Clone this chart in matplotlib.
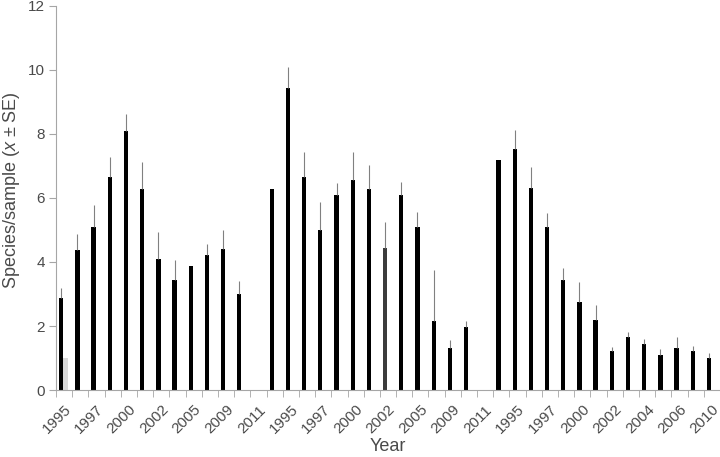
import numpy as np
import matplotlib
matplotlib.use("Agg")
import matplotlib.pyplot as plt

plt.rcParams['font.family'] = ['Liberation Sans', 'DejaVu Sans']
plt.rcParams['mathtext.fontset'] = 'custom'
plt.rcParams['mathtext.rm'] = 'Liberation Sans'
plt.rcParams['mathtext.it'] = 'Liberation Sans:italic'

nan = np.nan
# three sites, one empty slot between them
means = [2.87, 4.38, 5.08, 6.66, 8.08, 6.28, 4.08, 3.43, 3.88, 4.21, 4.42, 2.99, nan,
         6.28, 9.43, 6.66, 5.00, 6.09, 6.55, 6.29, 4.43, 6.08, 5.08, 2.16, 1.32, 1.98, nan,
         7.20, 7.54, 6.31, 5.08, 3.43, 2.76, 2.19, 1.21, 1.65, 1.43, 1.10, 1.32, 1.21, 0.99]
se = [0.33, 0.50, 0.69, 0.62, 0.53, 0.83, 0.86, 0.62, 0.0, 0.35, 0.59, 0.41, nan,
      0.0, 0.65, 0.77, 0.88, 0.38, 0.90, 0.74, 0.81, 0.42, 0.48, 1.60, 0.24, 0.17, nan,
      0.0, 0.59, 0.67, 0.44, 0.39, 0.60, 0.47, 0.14, 0.16, 0.17, 0.18, 0.34, 0.17, 0.16]
grey_vals = [1.0] + [nan] * 40
tick_labels = ['1995', '1997', '2000', '2002', '2005', '2009', '2011',
               '1995', '1997', '2000', '2002', '2005', '2009', '2011',
               '1995', '1997', '2000', '2002', '2004', '2006', '2010']

n = len(means)
x = np.arange(n)
colors = ['black'] * n
colors[20] = '#3c3c3c'

text_col = '#4a4a4a'
axis_col = '#a6a6a6'

fig = plt.figure(figsize=(7.2, 4.57), dpi=100)
ax = fig.add_axes([0.0778, 0.1466, 0.9222, 0.8403])

ax.bar(x - 0.18, means, width=0.265, color=colors,
       yerr=[np.zeros(n), se],
       error_kw=dict(ecolor='#808080', elinewidth=0.8, capsize=0))
ax.bar(x + 0.09, grey_vals, width=0.265, color='#d9d9d9')

ax.set_xlim(-0.5, n - 0.5)
ax.set_ylim(0, 12)
ax.set_yticks(range(0, 13, 2))

ax.set_xticks(x[::2])
ax.set_xticklabels(tick_labels, rotation=45, ha='right', rotation_mode='anchor')
ax.set_xticks(np.arange(n + 1) - 0.5, minor=True)
ax.tick_params(axis='x', which='major', length=0, pad=9, labelsize=11, labelcolor=text_col)
ax.tick_params(axis='x', which='minor', length=5, color=axis_col, direction='out')
ax.tick_params(axis='y', length=5, color=axis_col, labelsize=11, labelcolor=text_col, pad=3)

for s in ['top', 'right']:
    ax.spines[s].set_visible(False)
for s in ['left', 'bottom']:
    ax.spines[s].set_color(axis_col)
    ax.spines[s].set_linewidth(0.8)

ax.set_xlabel('Year', fontsize=13, color=text_col, labelpad=1)
ax.set_ylabel(r'Species/sample ($x$ ± SE)', fontsize=13, color=text_col, labelpad=4)
ax.yaxis.label.set_y(0.52)

fig.savefig('out.png', dpi=100)
